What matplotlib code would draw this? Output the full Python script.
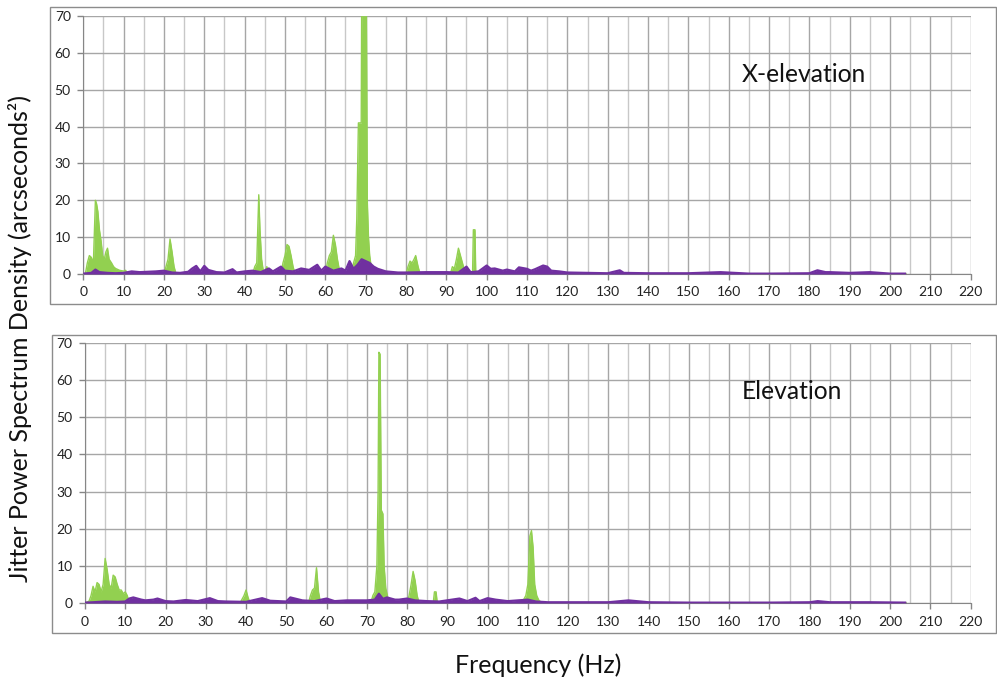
import matplotlib
matplotlib.use("Agg")
import matplotlib.pyplot as plt
from matplotlib.patches import Rectangle

plt.rcParams['font.family'] = ['Lato', 'DejaVu Sans']

# ---------------- data (frequency in Hz, PSD in arcseconds^2) ----------------
xel_green_f = [0, 0.5, 1, 1.5, 2, 2.5, 3, 3.3, 3.6, 4, 4.4, 4.8, 5.2, 5.6, 6, 6.4, 7, 7.5, 8, 9, 10, 10.5, 11,
               20, 20.5, 21, 21.5, 22, 22.5, 23,
               42, 42.5, 43, 43.5, 43.8, 44.2, 44.6, 45, 45.5, 46,
               49, 49.5, 50, 50.5, 51, 51.5, 52, 52.5,
               60, 60.5, 61, 61.5, 62, 62.5, 63, 63.5, 64,
               66.5, 67, 67.5, 67.8, 68.2, 68.9, 69.0, 70.2, 70.4, 70.7, 71, 71.5, 72,
               80, 80.5, 81, 81.5, 82, 82.4, 83, 83.5,
               91, 91.5, 92, 92.5, 93, 93.5, 94, 94.5, 95, 96.5, 96.7, 97.1, 97.3, 98, 204]
xel_green_v = [0, 0, 3, 5, 4.5, 3, 20, 19, 17, 12, 9, 5, 4, 6, 7, 4, 3, 2, 1.5, 1, 0.8, 1, 0,
               0, 2, 4, 9.5, 6, 2, 0,
               0, 2, 3, 21.5, 12, 4, 1, 0.5, 2, 0,
               0, 3, 5, 8, 7.5, 5, 2, 0,
               0, 3, 5, 6, 10.5, 8, 4, 1, 0,
               0, 3, 5, 15, 41, 41, 70, 70, 20, 10, 5, 1, 0,
               0, 2, 3.5, 3, 4, 5, 2, 0,
               0, 2, 1.5, 4, 7, 5, 3, 1, 0, 0, 12, 12, 0, 0, 0]

xel_purple_f = [0, 2, 3, 4, 6, 8, 10, 12, 14, 16, 18, 20, 22, 24, 26, 27, 28, 29, 30, 31, 33, 35, 37, 38, 40,
                42, 44, 46, 47, 49, 50, 52, 54, 56, 58, 59, 60, 62, 64, 65, 66, 67, 68, 69, 70, 71, 72, 73,
                75, 78, 80, 85, 90, 93, 95, 96, 98, 100, 101, 102, 104, 105, 107, 108, 110, 111, 112, 114,
                115, 116, 118, 120, 125, 130, 133, 134, 140, 150, 158, 165, 170, 180, 182, 184, 185, 190,
                195, 200, 204]
xel_purple_v = [0.1, 0.3, 1.2, 0.5, 0.3, 0.2, 0.3, 0.7, 0.5, 0.6, 0.7, 0.9, 0.4, 0.3, 0.6, 1.5, 2.2, 0.7,
                2.2, 1.1, 0.5, 0.4, 1.3, 0.4, 0.7, 0.9, 0.5, 1.5, 0.7, 2.0, 0.9, 0.7, 1.5, 1.1, 2.5, 0.9,
                2.0, 0.9, 1.5, 0.9, 3.5, 1.4, 2.5, 4.0, 3.5, 3.0, 2.0, 1.4, 0.7, 0.4, 0.4, 0.5, 0.5, 0.4,
                2.0, 0.5, 0.7, 2.3, 1.4, 1.5, 0.9, 1.2, 0.7, 1.8, 1.4, 0.9, 1.3, 2.3, 2.0, 0.9, 0.7, 0.4,
                0.3, 0.2, 1.0, 0.3, 0.2, 0.2, 0.5, 0.1, 0.1, 0.2, 1.0, 0.5, 0.5, 0.3, 0.5, 0.1, 0.1]

el_green_f = [0, 1, 1.5, 2, 2.5, 3, 3.5, 4, 4.5, 5, 5.5, 6, 6.5, 7, 7.5, 8, 8.5, 9, 9.5, 10, 10.5, 11,
              38.5, 39.5, 40, 40.5, 41,
              55.5, 56, 56.5, 57, 57.5, 58, 58.5,
              71, 71.5, 72, 72.5, 72.8, 73.0, 73.3, 73.6, 74, 74.3, 74.7, 75.2, 75.7,
              80, 80.5, 81, 81.5, 82, 82.5, 83,
              86.5, 86.8, 87.2, 87.5,
              108.5, 109, 109.5, 110, 110.5, 110.9, 111.3, 111.7, 112.2, 112.7, 113.5, 204]
el_green_v = [0, 0.5, 2, 4.5, 3, 5.5, 5, 3, 5, 12, 9, 5, 4, 7.5, 7, 5, 3.5, 3.5, 2.5, 3, 2, 0,
              0, 2, 3.5, 1.5, 0,
              0, 2, 3.5, 4, 9.5, 3, 0,
              0, 2, 3, 10, 30, 67.5, 67, 25, 24, 10, 4, 1.5, 0,
              0, 2, 5, 8.5, 6, 2, 0,
              0, 3, 3, 0,
              0, 1, 2, 5, 18, 19.5, 15, 5, 2, 0.8, 0, 0]

el_purple_f = [0, 2, 5, 8, 10, 11, 12, 13, 14, 15, 17, 18, 20, 22, 25, 28, 31, 33, 35, 40, 44, 46, 50, 51,
               54, 57, 60, 62, 65, 70, 72, 73, 74, 75, 77, 78, 80, 82, 85, 88, 93, 95, 97, 98, 100, 102,
               105, 110, 112, 115, 120, 130, 135, 140, 150, 170, 180, 182, 185, 195, 204]
el_purple_v = [0.1, 0.2, 0.4, 0.3, 0.4, 1.2, 1.5, 1.2, 0.9, 0.7, 0.9, 1.2, 0.5, 0.4, 0.8, 0.5, 1.3, 0.5,
               0.4, 0.3, 1.3, 0.6, 0.4, 1.5, 0.7, 0.5, 1.2, 0.5, 0.7, 0.7, 0.9, 2.5, 1.1, 1.5, 0.9, 0.9,
               1.2, 0.7, 0.5, 0.4, 1.2, 0.5, 1.4, 0.5, 1.3, 0.9, 0.5, 0.9, 0.4, 0.2, 0.2, 0.2, 0.7, 0.2,
               0.1, 0.1, 0.2, 0.5, 0.2, 0.2, 0.1]

x_ticks = list(range(0, 221, 10))
y_ticks = list(range(0, 71, 10))
panel_labels = ["X-elevation", "Elevation"]

GREEN = "#92D050"
PURPLE = "#7030A0"
W, H = 997, 681

fig = plt.figure(figsize=(W / 100, H / 100), dpi=100)

# outer frames (pixel coords -> figure fraction)
for (x0, y0, x1, y1) in [(50, 7, 996, 304), (52, 335, 996, 633)]:
    fig.patches.append(Rectangle((x0 / W, 1 - y1 / H), (x1 - x0) / W, (y1 - y0) / H,
                                 transform=fig.transFigure, fill=False,
                                 edgecolor="#8c8c8c", linewidth=1.0))

axes_px = [(83.3, 16, 970.7, 274), (85, 343, 970.7, 603)]
series = [(xel_green_f, xel_green_v, xel_purple_f, xel_purple_v),
          (el_green_f, el_green_v, el_purple_f, el_purple_v)]
label_pos = [(163.2, 54.0), (163.1, 56.9)]

for i, ((l, t, r, b), (gf, gv, pf, pv)) in enumerate(zip(axes_px, series)):
    ax = fig.add_axes([l / W, 1 - b / H, (r - l) / W, (b - t) / H])
    ax.set_xlim(0, 220)
    ax.set_ylim(0, 70)
    ax.fill_between(gf, 0, gv, color=GREEN, linewidth=0, zorder=2)
    ax.plot(gf, gv, color=GREEN, linewidth=1.0, zorder=2)
    ax.fill_between(pf, 0, pv, color=PURPLE, linewidth=0, zorder=3)
    ax.plot(pf, pv, color=PURPLE, linewidth=1.6, zorder=3, solid_capstyle='butt')

    ax.set_xticks(x_ticks)
    ax.set_yticks(y_ticks)
    ax.set_xticks(list(range(5, 220, 10)), minor=True)
    ax.grid(True, which='major', color="#a6a6a6", linewidth=1.0, zorder=0)
    ax.grid(True, which='minor', axis='x', color="#c8c8c8", linewidth=1.0, zorder=0)
    ax.set_axisbelow(True)
    for s in ['top', 'right']:
        ax.spines[s].set_visible(False)
    ax.spines['left'].set_color("#868686")
    ax.spines['bottom'].set_color("#868686")
    ax.tick_params(axis='both', which='major', length=4, width=1, color="#868686",
                   labelsize=10, labelcolor="#222222")
    ax.tick_params(axis='x', which='minor', length=0)
    ax.tick_params(axis='x', pad=5)
    ax.tick_params(axis='y', pad=5)
    ax.text(label_pos[i][0], label_pos[i][1], panel_labels[i], fontsize=17.7,
            va='center', ha='left', color="#111111")

fig.text(538 / W, 1 - 665 / H, "Frequency (Hz)", ha='center', va='center', fontsize=18, color="#111111")
fig.text(20 / W, 1 - 338 / H, "Jitter Power Spectrum Density (arcseconds²)", ha='center', va='center',
         rotation=90, fontsize=18, color="#111111")

fig.savefig("out.png", dpi=100)
